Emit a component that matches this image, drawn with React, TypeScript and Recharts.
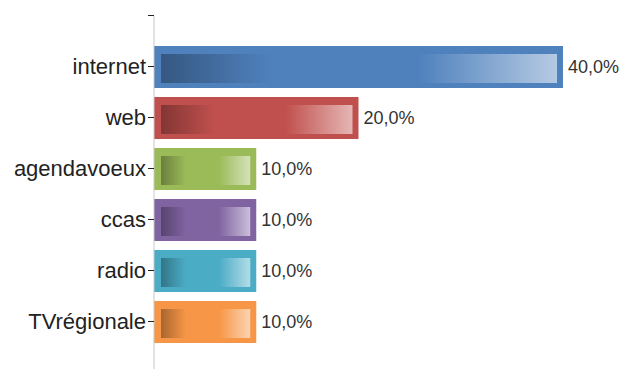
import { Bar, BarChart, LabelList, XAxis, YAxis } from "recharts";

const categories = ["internet", "web", "agendavoeux", "ccas", "radio", "TVrégionale"];
const shares = [40, 20, 10, 10, 10, 10];
const palette = ["#4f81bd", "#c0504d", "#9bbb59", "#8064a2", "#4bacc6", "#f79646"];

// empty first row: the lone tick sitting above "internet"
const data = [
  { name: "", value: null as number | null, color: "" },
  ...categories.map((name, i) => ({ name, value: shares[i], color: palette[i] })),
];

const FONT = "'Liberation Sans', Arial, sans-serif";

/** mix a hex colour toward black (amt < 0) or white (amt > 0) */
function shade(hex: string, amt: number) {
  const n = parseInt(hex.slice(1), 16);
  const ch = [(n >> 16) & 255, (n >> 8) & 255, n & 255].map((v) =>
    Math.round(amt < 0 ? v * (1 + amt) : v + (255 - v) * amt)
  );
  return "#" + ch.map((v) => v.toString(16).padStart(2, "0")).join("");
}

function GlossBar(props: any) {
  const { x, y, width, height, payload, index } = props;
  if (!width || width <= 0 || !payload?.color) return null;
  const c = payload.color;
  const id = `gloss-${index}`;
  return (
    <g>
      <defs>
        <linearGradient id={id} x1="0" y1="0" x2="1" y2="0">
          <stop offset="0" stopColor={shade(c, -0.32)} />
          <stop offset="0.28" stopColor={c} />
          <stop offset="0.65" stopColor={c} />
          <stop offset="1" stopColor={shade(c, 0.58)} />
        </linearGradient>
      </defs>
      <rect x={x} y={y} width={width} height={height} fill={c} />
      <rect x={x + 7} y={y + 8} width={width - 13} height={height - 13} fill={`url(#${id})`} />
    </g>
  );
}

const pct = (v: any) => (v == null ? "" : Number(v).toFixed(1).replace(".", ",") + "%");

export default function App() {
  return (
    <div style={{ width: 626, height: 369, overflow: "hidden", fontFamily: FONT, background: "#fff" }}>
      <style>{"body{margin:0}"}</style>
      <BarChart
        width={626}
        height={369}
        layout="vertical"
        data={data}
        barSize={42}
        margin={{ top: 15.5, right: 63, bottom: 0, left: 0 }}
      >
        <XAxis type="number" domain={[0, 40]} hide />
        <YAxis
          type="category"
          dataKey="name"
          width={154}
          padding={{ top: -25.5, bottom: 22 }}
          axisLine={{ stroke: "#c8c8c8" }}
          tickLine={{ stroke: "#222" }}
          tick={{ fontSize: 22, fill: "#222" }}
          interval={0}
        />
        <Bar dataKey="value" shape={<GlossBar />} isAnimationActive={false}>
          <LabelList dataKey="value" position="right" offset={5} formatter={pct} fill="#333" fontSize={18} />
        </Bar>
      </BarChart>
    </div>
  );
}
